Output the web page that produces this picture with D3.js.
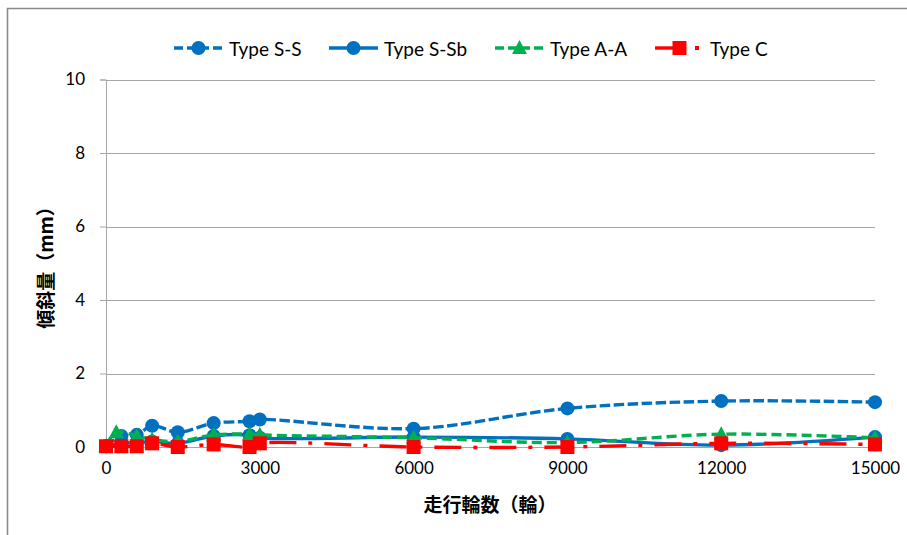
<!DOCTYPE html>
<html>
<head>
<meta charset="utf-8">
<script src="https://cdn.jsdelivr.net/npm/d3@7/dist/d3.min.js"></script>
<style>
  html, body { margin: 0; padding: 0; background: #fff; }
  svg { display: block; }
  .tick text { font-family: Lato, "Liberation Sans", sans-serif; fill: #000; }
</style>
</head>
<body>
<svg id="chart" width="907" height="535"></svg>
<script>
// Running distance (wheel revolutions) at each measurement
const runsSS  = [0, 300, 600, 900, 1400, 2100, 2800, 3000, 6000, 9000, 12000, 15000];
const runsSSb = [0, 300, 600, 900, 1400, 2100, 2800, 3000, 6000, 9000, 12000, 15000];
const runsAA  = [0, 200, 600, 900, 1400, 2100, 2800, 3000, 6000, 9000, 12000, 15000];
const runsC   = [0, 300, 600, 900, 1400, 2100, 2800, 3000, 6000, 9000, 12000, 15000];

// Tilt (mm)
const tiltSS  = [0.02, 0.30, 0.33, 0.58, 0.40, 0.65, 0.70, 0.75, 0.50, 1.05, 1.25, 1.22];
const tiltSSb = [0.02, 0.10, 0.12, 0.15, 0.10, 0.30, 0.32, 0.25, 0.27, 0.22, 0.05, 0.27];
const tiltAA  = [0.02, 0.40, 0.30, 0.20, 0.15, 0.33, 0.35, 0.33, 0.25, 0.12, 0.35, 0.25];
const tiltC   = [0.02, 0.02, 0.02, 0.10, 0.00, 0.07, 0.00, 0.10, 0.00, 0.00, 0.10, 0.07];

const seriesNames = ["Type S-S", "Type S-Sb", "Type A-A", "Type C"];
const xTicks = [0, 3000, 6000, 9000, 12000, 15000];
const yTicks = [0, 2, 4, 6, 8, 10];
const xTitle = "走行輪数（輪）";
const yTitle = "傾斜量（mm）";

const series = [
  { name: seriesNames[0], xs: runsSS,  ys: tiltSS,  color: "#0070C0", dash: "10.5,3.5", marker: "circle" },
  { name: seriesNames[1], xs: runsSSb, ys: tiltSSb, color: "#0070C0", dash: null,       marker: "circle" },
  { name: seriesNames[2], xs: runsAA,  ys: tiltAA,  color: "#00B050", dash: "10,5",     marker: "triangle" },
  { name: seriesNames[3], xs: runsC,   ys: tiltC,   color: "#FF0000", dash: "27,12,4,12", marker: "square" }
];

const svg = d3.select("#chart");
const x = d3.scaleLinear().domain([0, 15000]).range([106, 875]);
const y = d3.scaleLinear().domain([0, 10]).range([447, 79.5]);
const gridColor = "#a6a6a6";

// outer chart frame (left and top edges)
svg.append("path")
  .attr("d", "M7.5,535 L7.5,8.5 L907,8.5")
  .attr("fill", "none").attr("stroke", "#8a8a8a").attr("stroke-width", 1.6);

// horizontal gridlines
svg.append("g").selectAll("line").data(yTicks.filter(d => d > 0)).join("line")
  .attr("x1", x(0)).attr("x2", x(15000))
  .attr("y1", d => Math.round(y(d)) + 0.5).attr("y2", d => Math.round(y(d)) + 0.5)
  .attr("stroke", gridColor).attr("stroke-width", 1);

// y axis
const yAxis = svg.append("g").attr("transform", `translate(${x(0)},0)`)
  .call(d3.axisLeft(y).tickValues(yTicks).tickSize(6).tickPadding(15).tickFormat(d3.format("d")));
yAxis.selectAll("text").style("font-size", "17px");
yAxis.selectAll("line, path").attr("stroke", gridColor);

// x axis
const xAxis = svg.append("g").attr("transform", `translate(0,${y(0)})`)
  .call(d3.axisBottom(x).tickValues(xTicks).tickSize(5).tickPadding(10).tickFormat(d3.format("d")));
xAxis.selectAll("text").style("font-size", "17px");
xAxis.selectAll("line, path").attr("stroke", gridColor);

// axis titles
svg.append("text")
  .attr("x", 490).attr("y", 503).attr("text-anchor", "middle").attr("dominant-baseline", "central")
  .style("font-family", "'Noto Sans CJK JP', sans-serif").style("font-weight", "bold").style("font-size", "19px")
  .text(xTitle);
svg.append("text")
  .attr("transform", "translate(44,263) rotate(-90)")
  .attr("text-anchor", "middle").attr("dominant-baseline", "central")
  .style("font-family", "'Noto Sans CJK JP', sans-serif").style("font-weight", "bold").style("font-size", "19px")
  .text(yTitle);

function drawMarker(g, type, color, cx, cy) {
  if (type === "circle") {
    g.append("circle").attr("cx", cx).attr("cy", cy).attr("r", 7).attr("fill", color);
  } else if (type === "square") {
    g.append("rect").attr("x", cx - 7).attr("y", cy - 7).attr("width", 14).attr("height", 14).attr("fill", color);
  } else {
    g.append("path").attr("d", `M${cx},${cy - 8} L${cx + 7.5},${cy + 6} L${cx - 7.5},${cy + 6} Z`).attr("fill", color);
  }
}

const line = d3.line().curve(d3.curveCatmullRom.alpha(0.5));

series.forEach(s => {
  const pts = s.xs.map((v, i) => [x(v), y(s.ys[i])]);
  const g = svg.append("g");
  g.append("path").attr("d", line(pts))
    .attr("fill", "none").attr("stroke", s.color).attr("stroke-width", 3.4)
    .attr("stroke-dasharray", s.dash).attr("stroke-linejoin", "round");
  pts.forEach(p => drawMarker(g, s.marker, s.color, p[0], p[1]));
});

// legend
const legendX = [174, 329, 495, 655];
const legendY = 48;
series.forEach((s, i) => {
  const g = svg.append("g");
  const x0 = legendX[i];
  if (s.marker === "square") {
    g.append("line").attr("x1", x0).attr("x2", x0 + 26).attr("y1", legendY).attr("y2", legendY)
      .attr("stroke", s.color).attr("stroke-width", 3.4);
    g.append("rect").attr("x", x0 + 40).attr("y", legendY - 2).attr("width", 4).attr("height", 4).attr("fill", s.color);
  } else {
    g.append("line").attr("x1", x0).attr("x2", x0 + 49).attr("y1", legendY).attr("y2", legendY)
      .attr("stroke", s.color).attr("stroke-width", 3.4)
      .attr("stroke-dasharray", s.dash ? "9,4" : null);
  }
  drawMarker(g, s.marker, s.color, x0 + 24.5, legendY);
  g.append("text").attr("x", x0 + 55).attr("y", legendY).attr("dominant-baseline", "central")
    .style("font-family", "Lato, sans-serif").style("font-size", "19px").text(s.name);
});
</script>
</body>
</html>
